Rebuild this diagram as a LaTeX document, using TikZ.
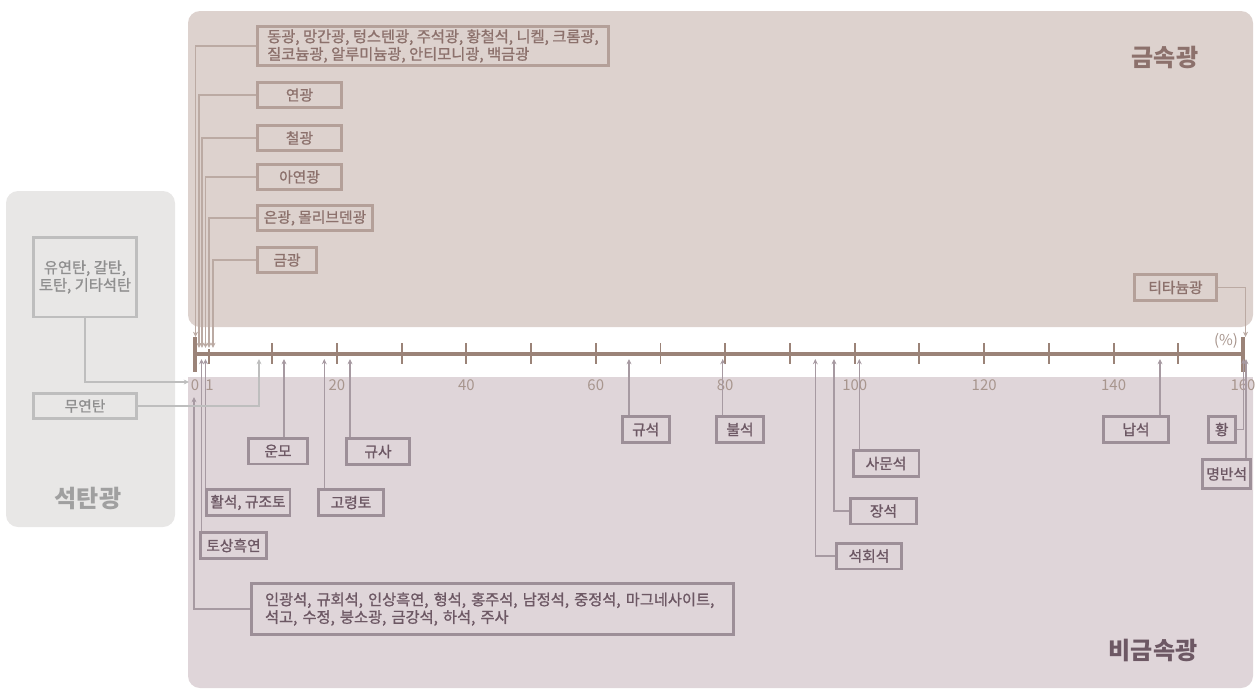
\documentclass[tikz,border=0pt]{standalone}
\usepackage{fontspec}
\newfontfamily\kr{Noto Sans CJK KR}
\newfontfamily\krm{Noto Sans CJK KR}[FakeBold=1.1]
\usetikzlibrary{arrows.meta}

\definecolor{metalbg}{HTML}{DDD2CE}
\definecolor{nmbg}{HTML}{DFD5D9}
\definecolor{coalbg}{HTML}{E8E7E6}
\definecolor{axisC}{HTML}{9B8378}
\definecolor{numC}{HTML}{A8968E}
\definecolor{metalC}{HTML}{B4A099}
\definecolor{metalT}{HTML}{8C716C}
\definecolor{nmC}{HTML}{9D8F98}
\definecolor{nmT}{HTML}{6D5864}
\definecolor{coalC}{HTML}{BEBEBE}
\definecolor{coalT}{HTML}{8F8F8F}

\begin{document}
\begin{tikzpicture}[x=0.02cm, y=-0.02cm,
    box/.style={draw, line width=1.7pt, inner sep=0pt, minimum height=0.5cm,
      font=\krm\fontsize{8.4}{10}\selectfont},
    metalbox/.style={box, draw=metalC, text=metalT},
    nmbox/.style={box, draw=nmC, text=nmT, minimum height=0.52cm},
    coalbox/.style={box, draw=coalC, text=coalT},
    metalarrow/.style={draw=metalC!90, line width=0.85pt, -{Stealth[length=3pt,width=2.8pt]}},
    nmarrow/.style={draw=nmC!90, line width=0.85pt, -{Stealth[length=3pt,width=2.8pt]}},
    coalarrow/.style={draw=coalC, line width=0.85pt, -{Stealth[length=3pt,width=2.8pt]}},
    numlabel/.style={text=numC, font=\kr\fontsize{8.5}{10}\selectfont, inner sep=0pt},
    title/.style={font=\kr\bfseries\fontsize{13.7}{15}\selectfont, inner sep=0pt}]
  \useasboundingbox (0,0) rectangle (1258,690);

  % regions
  \fill[coalbg, rounded corners=0.24cm] (6,191) rectangle (175,527);
  \fill[metalbg, rounded corners=0.24cm] (188,11) rectangle (1253,327);
  \fill[nmbg, rounded corners=0.24cm] (188,377) rectangle (1253,688);
  \fill[nmbg] (188,377) rectangle (1253,400);

  % axis
  \draw[axisC, line width=2.2pt] (195,354) -- (1243,354);
  \foreach \k in {1,...,15}
    \draw[axisC, line width=1.1pt] ({207.4+64.73*\k},343) -- ++(0,21);
  \draw[axisC, line width=1.1pt] (209,349) -- (209,364);
  \draw[axisC, line width=2.8pt] (195,337) -- (195,372);
  \draw[axisC, line width=2.8pt] (1243,337) -- (1243,372);
  \node[numlabel] (t0) at (195,385) {0};
  \node[numlabel] (t1) at (209.5,385) {1};
  \foreach \v in {20,40,...,160}
    \node[numlabel] (t\v) at ({207.4+6.473*\v},385) {\v};
  \node[numlabel] (pct) at (1226,341) {(\%)};

  % metal
  \node[metalbox, minimum width=7.02cm, minimum height=0.78cm, align=left,
    font=\krm\fontsize{8.7}{10}\selectfont] (m1) at (433,46)
    {동광, 망간광, 텅스텐광, 주석광, 황철석, 니켈, 크롬광,\\질코늄광, 알루미늄광, 안티모니광, 백금광};
  \node[metalbox, minimum width=1.68cm] (m2) at (299.5,95) {연광};
  \node[metalbox, minimum width=1.68cm] (m3) at (299.5,138) {철광};
  \node[metalbox, minimum width=1.68cm] (m4) at (299.5,177) {아연광};
  \node[metalbox, minimum width=2.3cm] (m5) at (315,218) {은광, 몰리브덴광};
  \node[metalbox, minimum width=1.18cm] (m6) at (287,260) {금광};
  \node[metalbox, minimum width=1.64cm, minimum height=0.52cm] (m7) at (1175.5,287.5) {티타늄광};

  % non-metal
  \node[nmbox, minimum width=1.18cm] (n1) at (278,451) {운모};
  \node[nmbox, minimum width=1.26cm] (n2) at (378,451.5) {규사};
  \node[nmbox, minimum width=1.3cm] (n3) at (351,502.5) {고령토};
  \node[nmbox, minimum width=1.68cm] (n4) at (248,502.5) {활석, 규조토};
  \node[nmbox, minimum width=1.32cm] (n5) at (233.5,545.5) {토상흑연};
  \node[nmbox, text width=9.1cm, inner xsep=0.27cm, minimum height=1.02cm, align=left,
    font=\krm\fontsize{8.7}{10}\selectfont] (n6) at (492.5,609)
    {인광석, 규회석, 인상흑연, 형석, 홍주석, 남정석, 중정석, 마그네사이트,\\석고, 수정, 붕소광, 금강석, 하석, 주사};
  \node[nmbox, minimum width=0.94cm] (n7) at (645.7,429.5) {규석};
  \node[nmbox, minimum width=0.94cm] (n8) at (740,429.5) {불석};
  \node[nmbox, minimum width=1.32cm] (n9) at (886,463.5) {사문석};
  \node[nmbox, minimum width=1.32cm] (n10) at (883.5,511) {장석};
  \node[nmbox, minimum width=1.3cm] (n11) at (869,556) {석회석};
  \node[nmbox, minimum width=1.3cm] (n12) at (1136,429.5) {납석};
  \node[nmbox, minimum width=0.54cm] (n13) at (1221.7,429.5) {황};
  \node[nmbox, minimum width=0.96cm, minimum height=0.58cm] (n14) at (1226.7,474) {명반석};

  % coal
  \node[coalbox, minimum width=2.06cm, minimum height=1.6cm, align=center,
    font=\krm\fontsize{8.7}{10}\selectfont] (c1) at (85,277) {유연탄, 갈탄,\\토탄, 기타석탄};
  \node[coalbox, minimum width=2.06cm] (c2) at (85,406) {무연탄};

  % titles
  \node[title, text=metalT] (tm) at (1165,57) {금속광};
  \node[title, text=nmT] (tn) at (1153,650) {비금속광};
  \node[title, text=coalT!85] (tc) at (88,498) {석탄광};

  % arrow ends on the axis
  \coordinate (m1a) at (195.5,337);
  \coordinate (m2a) at (199,348);
  \coordinate (m3a) at (202,348);
  \coordinate (m4a) at (205.5,348);
  \coordinate (m5a) at (209,348);
  \coordinate (m6a) at (213,348);
  \coordinate (m7a) at (1245.5,337);
  \coordinate (n1a) at (284,359);
  \coordinate (n2a) at (350,359);
  \coordinate (n3a) at (324.3,359);
  \coordinate (n4a) at (205.5,359);
  \coordinate (n5a) at (201.5,359);
  \coordinate (n6a) at (194,397);
  \coordinate (n7a) at (629,359);
  \coordinate (n8a) at (722.7,359);
  \coordinate (n9a) at (859.3,359);
  \coordinate (n10a) at (834,359);
  \coordinate (n11a) at (815.3,359);
  \coordinate (n12a) at (1160,359);
  \coordinate (n13a) at (1243.5,359);
  \coordinate (n14a) at (1246,359);
  \coordinate (c1a) at (189,382);
  \coordinate (c2a) at (259,359);

  % connectors
  \foreach \n in {1,...,7}
    \draw[metalarrow] (m\n.\ifnum\n=7 east\else west\fi) -| (m\n a);
  \foreach \n in {1,2,3,4,5,7,8,9,12,14}
    \draw[nmarrow] (n\n.north -| n\n a) -- (n\n a);
  \draw[nmarrow] (n6.west) -| (n6a);
  \draw[nmarrow] (n10.west) -| (n10a);
  \draw[nmarrow] (n11.west) -| (n11a);
  \draw[nmarrow] (n13.east) -| (n13a);
  \draw[coalarrow] (c1.south) |- (c1a);
  \draw[coalarrow] (c2.east) -| (c2a);
\end{tikzpicture}
\end{document}
